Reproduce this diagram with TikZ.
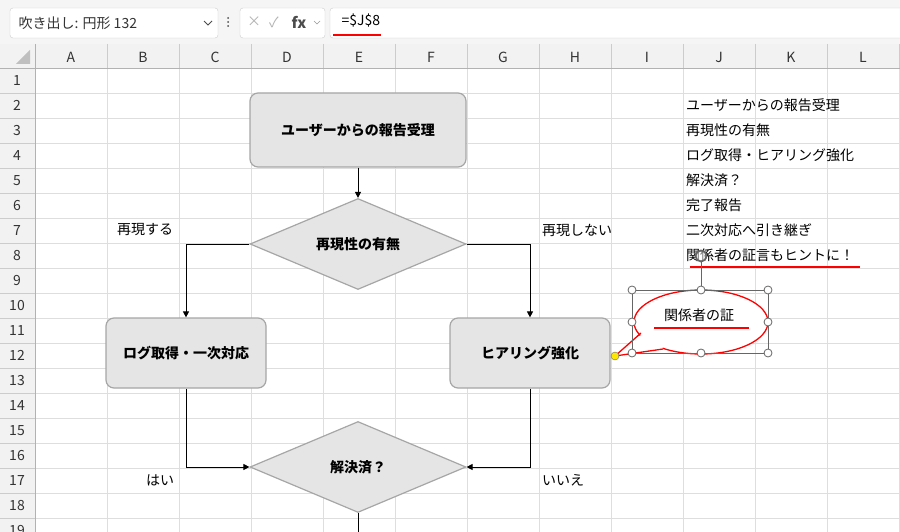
\documentclass[tikz,border=0pt]{standalone}
\usepackage{fontspec}
\setmainfont{Noto Sans CJK JP}
\usetikzlibrary{shapes.geometric,arrows.meta}
\begin{document}
\begin{tikzpicture}[x=1pt,y=-1pt,
  grid/.style={draw=black!13,line width=0.6pt},
  shp/.style={draw=black!35,fill=black!10,line width=1.2pt,font=\bfseries\fontsize{14}{16}\selectfont},
  rbox/.style={shp,rounded corners=8pt,minimum width=160pt,minimum height=70pt},
  dia/.style={shp,diamond,aspect=2.4,minimum width=216pt,minimum height=91pt,inner sep=0pt},
  conn/.style={draw,line width=1pt,-{Triangle[length=6pt,width=6pt]}},
  cell/.style={font=\fontsize{14}{16}\selectfont,anchor=west,inner sep=0pt},
  hdr/.style={font=\fontsize{14}{16}\selectfont,text=black!80},
  handle/.style={circle,draw=black!60,fill=white,line width=0.8pt,minimum size=8pt,inner sep=0pt},
  redl/.style={draw=red,line width=2.6pt}]
\useasboundingbox (0,0) rectangle (900,532);
\fill[white] (0,0) rectangle (900,532);
% formula bar
\fill[black!4] (0,0) rectangle (900,44);
\draw[black!20,fill=white,rounded corners=3pt] (10,8) rectangle (218,38);
\node[hdr,anchor=west] (nb) at (15,23) {吹き出し: 円形 132};
\draw[black!70,line width=0.8pt] (204,21) -- (208,25) -- (212,21);
\foreach \y in {18,22,26} \fill[black!70] (228,\y) circle (1pt);
\draw[black!20,fill=white,rounded corners=3pt] (240,8) rectangle (325,38);
\node[hdr,text=black!30] (xx) at (254,22) {×};
\node[hdr,text=black!30] (ck) at (274,22) {✓};
\node[font=\itshape\bfseries\fontsize{15}{16}\selectfont,text=black!70] (fx) at (299,22) {fx};
\draw[black!40,line width=0.7pt] (314,21) -- (317,24) -- (320,21);
\draw[black!20,fill=white,rounded corners=3pt] (330,8) rectangle (905,38);
\node[hdr,text=black,anchor=west] (fm) at (338,21) {=\$J\$8};
\draw[redl] (333,35) -- (381,35);
% headers
\fill[black!5] (0,44) rectangle (900,68);
\fill[black!5] (0,68) rectangle (35,532);
\fill[black!25] (30,50) -- (30,64) -- (16,64) -- cycle;
\foreach \x in {35,107,...,899} \draw[grid] (\x,68) -- (\x,532);
\foreach \y in {68,93,...,532} \draw[grid] (35,\y) -- (900,\y);
\foreach \x in {107,179,...,899} \draw[black!20] (\x,44) -- (\x,68);
\foreach \y in {93,118,...,532} \draw[black!20] (0,\y) -- (35,\y);
\draw[black!30] (0,68) -- (900,68) (35,44) -- (35,532);
\foreach \c [count=\i from 0] in {A,B,C,D,E,F,G,H,I,J,K,L}
  \node[hdr] at (71+72*\i,57) {\c};
\foreach \r in {1,...,19} \node[hdr] at (17,80.5+25*\r-25) {\r};
% shapes
\node[rbox,minimum width=216pt,minimum height=74pt] (s1) at (358,130) {ユーザーからの報告受理};
\node[dia] (d1) at (358,244) {再現性の有無};
\node[rbox] (l1) at (186,353) {ログ取得・一次対応};
\node[rbox] (r1) at (530,353) {ヒアリング強化};
\node[dia] (d2) at (358,467) {解決済？};
\coordinate (bend) at (358,540);
\draw[conn] (s1.south) -- (d1.north);
\draw[conn] (d1.west) -| (l1.north);
\draw[conn] (d1.east) -| (r1.north);
\draw[conn] (l1.south) |- (d2.west);
\draw[conn] (r1.south) |- (d2.east);
\draw[line width=1pt] (d2.south) -- (bend);
\node[cell] (t1) at (117,230) {再現する};
\node[cell] (t2) at (542,230) {再現しない};
\node[cell] (t3) at (146,480) {はい};
\node[cell] (t4) at (542,480) {いいえ};
\foreach \t [count=\i from 2] in {ユーザーからの報告受理,再現性の有無,ログ取得・ヒアリング強化,解決済？,完了報告,二次対応へ引き継ぎ,関係者の証言もヒントに！}
  \node[cell] (j\i) at (686,55.5+25*\i) {\t};
\draw[redl] (690,267) -- (860,267);
% callout
\draw[red,line width=1.3pt,fill=white] (701,322) ellipse[x radius=67,y radius=32];
\fill[white] (641,335) -- (615,356) -- (663,349) -- (662,344) -- (645,332) -- cycle;
\draw[red,line width=1.3pt] (641,333) -- (615,356) -- (663,349);
\node[font=\fontsize{14}{16}\selectfont] (ct) at (699,315) {関係者の証};
\draw[redl] (654,328) -- (749,328);
\draw[black!60,line width=0.8pt] (632,290) rectangle (768,353) (701,290) -- (701,262);
\foreach \p in {(632,290),(701,290),(768,290),(632,322),(768,322),(632,353),(701,353),(768,353)} \node[handle] at \p {};
\node[circle,draw=black!60,line width=1.8pt,minimum size=11pt,inner sep=0pt,fill=white,fill opacity=0.5] (rot) at (701,256) {};
\node[circle,draw=black!60,fill=yellow!90!orange,minimum size=8pt,inner sep=0pt] (tip) at (615,356) {};
\end{tikzpicture}
\end{document}
